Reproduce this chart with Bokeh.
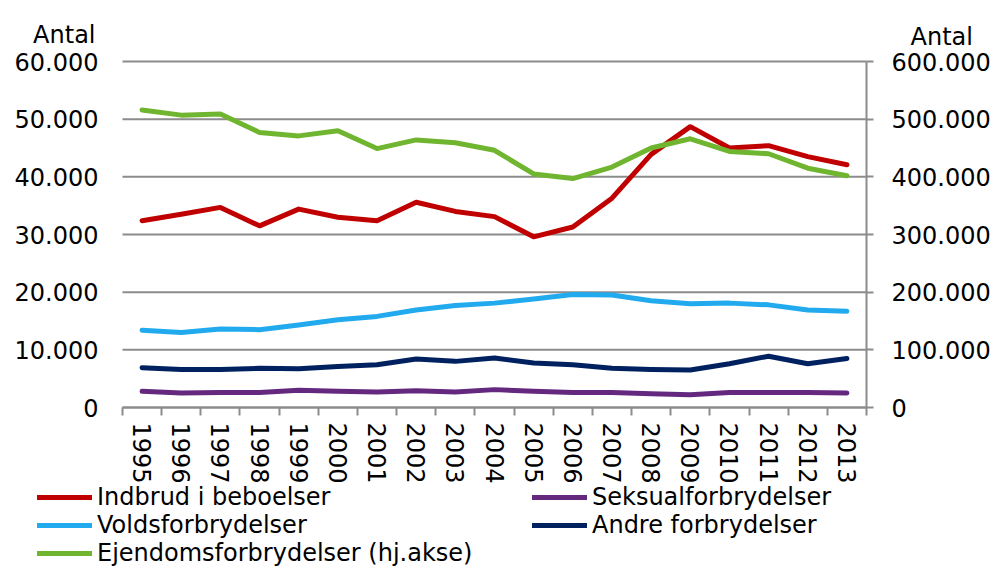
from bokeh.plotting import figure
from bokeh.models import Range1d, LinearAxis, FixedTicker, Legend, LegendItem, Label
from bokeh.embed import file_html
from bokeh.resources import INLINE

years = list(range(1995, 2014))
indbrud = [32400, 33500, 34700, 31500, 34400, 33000, 32400, 35600, 34000, 33100,
           29600, 31300, 36300, 43900, 48700, 45000, 45400, 43500, 42100]
seksual = [2800, 2500, 2600, 2600, 3000, 2800, 2700, 2900, 2700, 3100,
           2800, 2600, 2600, 2400, 2200, 2600, 2600, 2600, 2500]
volds = [13400, 13000, 13600, 13500, 14300, 15200, 15800, 16900, 17700, 18100,
         18800, 19600, 19500, 18500, 18000, 18100, 17800, 16900, 16700]
andre = [6900, 6600, 6600, 6800, 6700, 7100, 7400, 8400, 8000, 8600,
         7700, 7400, 6800, 6600, 6500, 7600, 8900, 7600, 8500]
ejendom = [516000, 507000, 509000, 477000, 471000, 480000, 449000, 464000, 459000, 446000,
           405000, 397000, 417000, 450000, 466000, 444000, 440000, 415000, 402000]

left_ticks = [0, 10000, 20000, 30000, 40000, 50000, 60000]
left_labels = ["0", "10.000", "20.000", "30.000", "40.000", "50.000", "60.000"]
right_ticks = [0, 100000, 200000, 300000, 400000, 500000, 600000]
right_labels = ["0", "100.000", "200.000", "300.000", "400.000", "500.000", "600.000"]
axis_titles = ["Antal", "Antal"]

names = ["Indbrud i beboelser", "Seksualforbrydelser", "Voldsforbrydelser",
         "Andre forbrydelser", "Ejendomsforbrydelser (hj.akse)"]
colors = ["#C00000", "#65287F", "#22AAEE", "#00215F", "#70B52F"]

FONT = "DejaVu Sans"
FS = "24px"
GRID = "#8C8C8C"

# ---- layout (pixels): the plotting frame covers the whole canvas; the
# visible plot area is placed inside it, axes are pinned with fixed_location ----
W, H = 991, 567
AREA_L, AREA_R, AREA_T, AREA_B = 122, 866, 61, 407
x_lo, x_hi = years[0] - 0.5, years[-1] + 0.5
y_lo, y_hi = left_ticks[0], left_ticks[-1]
r_lo, r_hi = right_ticks[0], right_ticks[-1]
xpp = (x_hi - x_lo) / (AREA_R - AREA_L)
ypp = (y_hi - y_lo) / (AREA_B - AREA_T)
rpp = (r_hi - r_lo) / (AREA_B - AREA_T)


def px_x(px):
    return x_lo + (px - AREA_L) * xpp


def px_y(py):
    return y_lo + (AREA_B - py) * ypp


p = figure(width=W, height=H, output_backend="svg", toolbar_location=None,
           x_range=Range1d(px_x(0), px_x(W)),
           y_range=Range1d(px_y(H), px_y(0)),
           min_border=0, min_border_left=0, min_border_right=0,
           min_border_top=0, min_border_bottom=0)
p.extra_y_ranges = {"right": Range1d(r_lo - (H - AREA_B) * rpp, r_hi + AREA_T * rpp)}
p.outline_line_color = None
p.title.text = ""
p.xgrid.visible = False
p.ygrid.visible = False

# left axis
ya = p.yaxis[0]
ya.fixed_location = x_lo
ya.bounds = (y_lo, y_hi)
ya.ticker = FixedTicker(ticks=left_ticks, minor_ticks=[])
ya.major_label_overrides = {t: l for t, l in zip(left_ticks, left_labels)}
ya.axis_line_color = None
ya.major_tick_out = 0
ya.major_tick_in = 0
ya.minor_tick_out = 0
ya.minor_tick_in = 0
ya.major_label_standoff = 24
ya.major_label_text_font = FONT
ya.major_label_text_font_size = FS
ya.major_label_text_color = "black"

# right axis
ra = LinearAxis(y_range_name="right", fixed_location=x_hi, bounds=(r_lo, r_hi))
ra.ticker = FixedTicker(ticks=right_ticks, minor_ticks=[])
ra.major_label_overrides = {t: l for t, l in zip(right_ticks, right_labels)}
ra.axis_line_color = GRID
ra.axis_line_width = 2
ra.major_tick_line_color = GRID
ra.major_tick_line_width = 2
ra.major_tick_out = 7
ra.major_tick_in = 0
ra.minor_tick_out = 0
ra.minor_tick_in = 0
ra.major_label_standoff = 18
ra.major_label_text_font = FONT
ra.major_label_text_font_size = FS
ra.major_label_text_color = "black"
p.add_layout(ra, "right")

# bottom axis: labels at year centres, ticks at the boundaries
xa = p.xaxis[0]
xa.fixed_location = y_lo
xa.bounds = (x_lo, x_hi)
xa.ticker = FixedTicker(ticks=years, minor_ticks=[y - 0.5 for y in years] + [x_hi])
xa.major_label_overrides = {y: str(y) for y in years}
xa.major_label_orientation = "vertical"
xa.major_tick_out = 0
xa.major_tick_in = 0
xa.minor_tick_out = 8
xa.minor_tick_in = 0
xa.minor_tick_line_color = GRID
xa.minor_tick_line_width = 2
xa.axis_line_color = GRID
xa.axis_line_width = 2
xa.major_label_standoff = 7
xa.major_label_text_font = FONT
xa.major_label_text_font_size = FS
xa.major_label_text_color = "black"

# horizontal gridlines at the left-axis ticks, across the plot area only
p.segment(x0=[x_lo] * len(left_ticks), x1=[x_hi] * len(left_ticks),
          y0=left_ticks, y1=left_ticks, line_color=GRID, line_width=2)

renderers = []
for vals, c in zip([indbrud, seksual, volds, andre], colors[:4]):
    renderers.append(p.line(years, vals, line_color=c, line_width=5,
                            line_join="round", line_cap="round"))
renderers.append(p.line(years, ejendom, line_color=colors[4], line_width=5,
                        line_join="round", line_cap="round", y_range_name="right"))

items = [LegendItem(label=n, renderers=[r]) for n, r in zip(names, renderers)]
legend = Legend(items=items, location=(37, 0), orientation="horizontal", ncols=2,
                glyph_width=55, glyph_height=20, label_standoff=5, spacing=-2,
                label_width=435, label_height=20,
                padding=0, margin=0, border_line_color=None, background_fill_alpha=0,
                label_text_font=FONT, label_text_font_size=FS,
                label_text_color="black")
p.add_layout(legend, "center")

p.add_layout(Label(x=px_x(95), y=px_y(34), text=axis_titles[0], text_align="right",
                   text_baseline="alphabetic", text_font=FONT, text_font_size=FS,
                   text_color="black"))
p.add_layout(Label(x=px_x(910), y=px_y(36), text=axis_titles[1], text_align="left",
                   text_baseline="alphabetic", text_font=FONT, text_font_size=FS,
                   text_color="black"))

open("out.html", "w").write(file_html(p, INLINE))
